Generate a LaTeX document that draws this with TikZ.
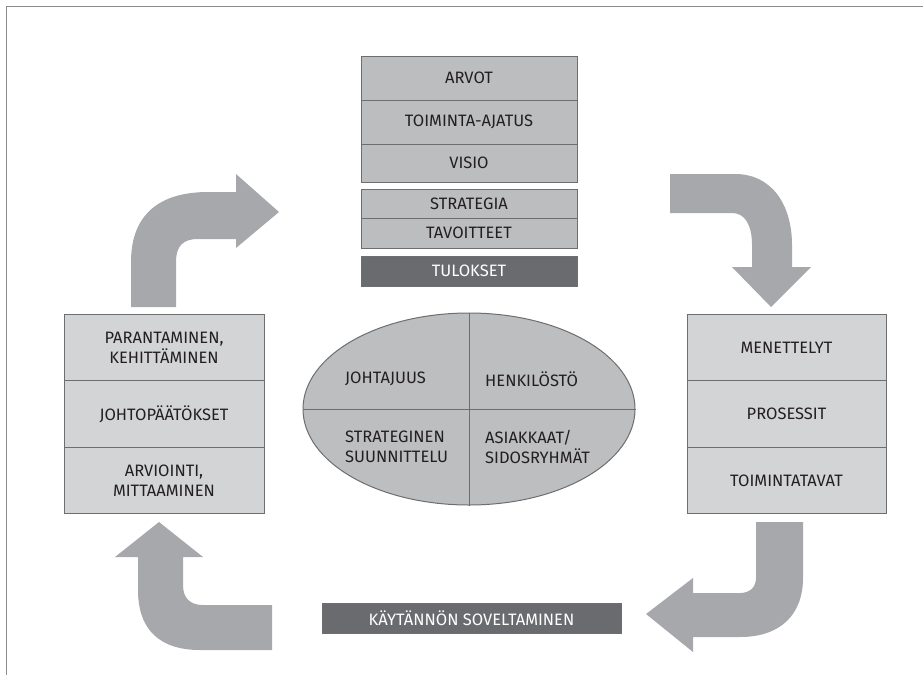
\documentclass[tikz,border=0pt]{standalone}
\usepackage{fontspec}
\setmainfont{Fira Sans}
\usetikzlibrary{shapes.geometric}
\definecolor{stackfill}{HTML}{BCBDBF}
\definecolor{boxfill}{HTML}{D3D4D5}
\definecolor{ellfill}{HTML}{BDBEC0}
\definecolor{arrowfill}{HTML}{A7A8AB}
\definecolor{darkfill}{HTML}{6A6B6E}
\definecolor{linec}{HTML}{6D6E70}
\definecolor{textc}{HTML}{231F20}
\definecolor{framec}{HTML}{8A8B8D}
\tikzset{
  lbl/.style={font=\fontsize{16.5}{20}\selectfont, text=textc, inner sep=0pt},
  cell/.style={lbl, draw=linec, line width=1pt, fill=#1, align=center, inner sep=0pt, outer sep=0pt},
  darkbar/.style={draw=linec, line width=1pt, fill=darkfill, text=white, font=\fontsize{16.5}{20}\selectfont, inner sep=0pt, outer sep=0pt},
  blockarrow/.style={fill=arrowfill, draw=none},
}
\begin{document}
\begin{tikzpicture}[x=1pt,y=-1pt]
\useasboundingbox (0,0) rectangle (923,675);
% frame
\draw[framec, line width=1.5pt] (6.5,675) -- (6.5,6.5) -- (923,6.5);

% top stack
\node[cell=stackfill, minimum width=216, minimum height=44] (arvot) at (469,78) {ARVOT};
\node[cell=stackfill, minimum width=216, minimum height=44] (toim) at (469,122) {TOIMINTA-AJATUS};
\node[cell=stackfill, minimum width=216, minimum height=38] (visio) at (469,163) {VISIO};
\node[cell=stackfill, minimum width=216, minimum height=29] (strat) at (469,203.5) {STRATEGIA};
\node[cell=stackfill, minimum width=216, minimum height=30] (tav) at (469,233) {TAVOITTEET};
\node[darkbar, minimum width=216, minimum height=30] (tul) at (469,271) {TULOKSET};

% left box
\node[cell=boxfill, minimum width=200, minimum height=66.5] (par) at (164,347.5) {PARANTAMINEN,\\KEHITTÄMINEN};
\node[cell=boxfill, minimum width=200, minimum height=66.5] (johto) at (164,414) {JOHTOPÄÄTÖKSET};
\node[cell=boxfill, minimum width=200, minimum height=66.5] (arv) at (164,480.5) {ARVIOINTI,\\MITTAAMINEN};

% right box
\node[cell=boxfill, minimum width=199, minimum height=66.5] (men) at (786.5,347.5) {MENETTELYT};
\node[cell=boxfill, minimum width=199, minimum height=66.5] (pros) at (786.5,414) {PROSESSIT};
\node[cell=boxfill, minimum width=199, minimum height=66.5] (toimt) at (786.5,480.5) {TOIMINTATAVAT};

% ellipse
\node[ellipse, draw=linec, line width=1pt, fill=ellfill, minimum width=332, minimum height=192, inner sep=0pt] (ell) at (469,409) {};
\draw[linec, line width=1pt] (ell.north) -- (ell.south);
\draw[linec, line width=1pt] (ell.west) -- (ell.east);
\node[lbl, anchor=west, align=left] (joht) at (345,379) {JOHTAJUUS};
\node[lbl, anchor=west, align=left] (henk) at (485,379) {HENKILÖSTÖ};
\node[lbl, anchor=west, align=left] (strsuun) at (345,447) {STRATEGINEN\\SUUNNITTELU};
\node[lbl, anchor=west, align=left] (asiak) at (485,447) {ASIAKKAAT/\\SIDOSRYHMÄT};

% bottom bar
\node[darkbar, minimum width=299, minimum height=30] (kay) at (471.5,618) {KÄYTÄNNÖN SOVELTAMINEN};

% block arrows
\fill[blockarrow] (131,307) -- (131,262) .. controls (131,214) and (160,192) .. (208,192) -- (236,192) -- (236,174) -- (279,212) -- (236,248) -- (236,239) -- (198,239) .. controls (183,239) and (176,246) .. (176,262) -- (176,307) -- cycle;
\fill[blockarrow] (670,174) -- (735,174) .. controls (772,174) and (792,205) .. (792,245) -- (792,267) -- (811,267) -- (771,307) -- (732,267) -- (752,267) -- (752,245) .. controls (752,225) and (745,213) .. (732,213) -- (670,213) -- cycle;
\fill[blockarrow] (756,522) -- (803,522) -- (803,578) .. controls (803,615) and (780,637) .. (740,637) -- (693,637) -- (693,652) -- (646,614) -- (693,578) -- (693,593) -- (740,593) .. controls (750,593) and (756,587) .. (756,578) -- cycle;
\fill[blockarrow] (272,605) -- (203,605) .. controls (190,605) and (183,598) .. (183,585) -- (183,557) -- (203,557) -- (159,522) -- (115,557) -- (138,557) -- (138,590) .. controls (138,630) and (160,650) .. (200,650) -- (272,650) -- cycle;
\end{tikzpicture}
\end{document}
